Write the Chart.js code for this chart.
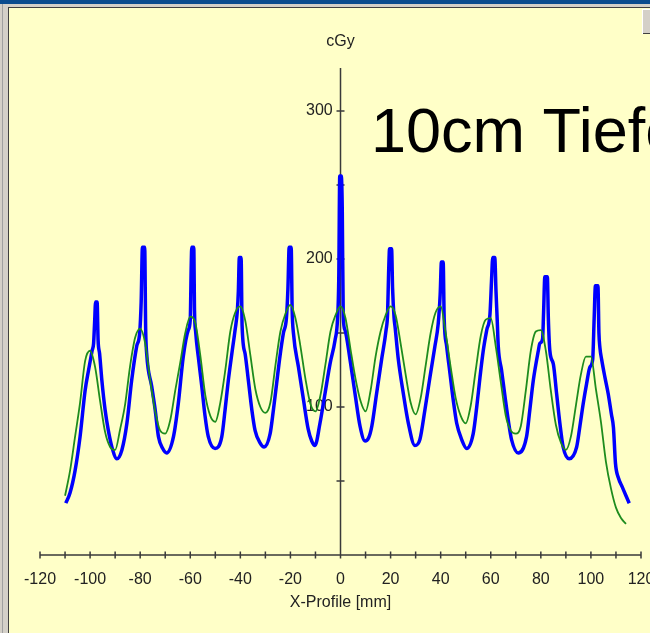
<!DOCTYPE html>
<html>
<head>
<meta charset="utf-8">
<script src="https://cdn.jsdelivr.net/npm/chart.js@4.4.1/dist/chart.umd.min.js"></script>
<style>
  html, body { margin: 0; padding: 0; }
  body { width: 650px; height: 633px; overflow: hidden; background: #d4d0c8; position: relative; }
  #titlebar { position: absolute; left: 0; top: 0; width: 650px; height: 4px; background: #0a4c8e; }
  #edge { position: absolute; left: 2px; top: 4px; width: 1px; height: 629px; background: #a0a0a0; }
  #panel { position: absolute; left: 8px; top: 7px; width: 642px; height: 626px;
           border-left: 1px solid #404040; border-top: 1px solid #404040;
           background: #ffffc8; overflow: hidden; }
  #panel canvas { position: absolute; left: 0; top: 0; }
  #btn { position: absolute; left: 642px; top: 9px; width: 8px; height: 24px; background: #d4d0c8;
         border-top: 1px solid #fff; border-left: 1px solid #fff; box-shadow: inset -1px -1px 0 #404040; }
</style>
</head>
<body>
<div id="titlebar"></div>
<div id="edge"></div>
<div id="panel"><canvas id="profile" width="664" height="625"></canvas></div>
<div id="btn"></div>
<script>
// green curve, 2 mm steps
const greenX = [-110, -108, -106, -104, -102, -100, -98, -96, -94, -92, -90, -88, -86, -84, -82, -80,
  -78, -76, -74, -72, -70, -68, -66, -64, -62, -60, -58, -56, -54, -52, -50, -48, -46, -44, -42, -40,
  -38, -36, -34, -32, -30, -28, -26, -24, -22, -20, -18, -16, -14, -12, -10, -8, -6, -4, -2, 0,
  2, 4, 6, 8, 10, 12, 14, 16, 18, 20, 22, 24, 26, 28, 30, 32, 34, 36, 38, 40,
  42, 44, 46, 48, 50, 52, 54, 56, 58, 60, 62, 64, 66, 68, 70, 72, 74, 76, 78, 80,
  82, 84, 86, 88, 90, 92, 94, 96, 98, 100, 102, 104, 106, 108, 110, 112, 114];
const greenY = [40, 57, 80, 103, 131, 138, 127, 104, 83, 73, 71, 85, 102, 128, 147, 153,
  143, 118, 97, 84, 82, 91, 111, 130, 150, 161, 157, 135, 108, 94, 90, 103, 125, 151, 164, 168,
  158, 135, 112, 100, 96, 103, 128, 151, 163, 169, 160, 141, 119, 102, 97, 108, 129, 151, 162, 168,
  160, 139, 119, 104, 97, 111, 134, 151, 162, 168, 162, 143, 122, 103, 95, 106, 128, 150, 164, 168,
  150, 127, 106, 94, 89, 101, 125, 148, 159, 160, 141, 117, 94, 84, 82, 87, 111, 138, 151, 152,
  138, 111, 88, 76, 71, 80, 101, 122, 134, 134, 112, 90, 63, 45, 32, 25, 21];

// blue curve, denser around the spikes
const blueX = [-109.7, -108, -106, -104, -102, -100.6, -99.2, -98.6, -98.2, -97.8, -97.2, -96.8, -96.2, -95.3, -94, -92.7, -91.3, -89.3,
  -87.3, -85.3, -83.4, -81.4, -80.2, -79.6, -79.1, -78.2, -77.8, -77.4, -75.4, -74, -72.7, -71, -69.4,
  -66.7, -64.8, -62.8, -60.8, -60, -59.6, -59.4, -58.6, -58.3, -57.8, -56.8, -55.4, -54.1, -52.8, -50.1,
  -47.4, -46.1, -44.8, -43.4, -42.1, -41.2, -40.8, -40.4, -39.7, -39.3, -38.1, -36.8, -35.4, -34.1, -32.2, -30.5,
  -28.1, -26.8, -25.5, -24.2, -22.8, -21.6, -21, -20.5, -19.7, -19.3, -18.8, -16.8, -14.8, -12.9, -11.5, -10.2,
  -8.2, -6.2, -4.2, -2.2, -1.2, -0.7, -0.3, 0.3, 0.7, 1.1, 1.8, 3.8, 5.8, 7.8, 9.8,
  11.2, 12.5, 14.4, 16.4, 18.2, 18.8, 19.2, 19.6, 20.4, 20.8, 21.4, 21.8, 23.1, 25.1, 27.1, 29.7,
  31.7, 33.7, 35.7, 37.7, 39, 39.8, 40.3, 41, 41.4, 42.4, 43.7, 45, 46.4, 48.4, 50.4,
  53, 54.4, 55.7, 57, 58.4, 59.7, 60.3, 60.8, 61.6, 62.1, 62.6, 63, 64.3, 65.7, 67, 68.3, 71,
  74.3, 75.6, 77, 79, 79.6, 80.7, 81.1, 81.6, 82.6, 83, 83.6, 85, 86.3, 87.6, 88.9, 91.3,
  94.3, 95.6, 96.9, 98.3, 99.6, 100.7, 101.3, 101.8, 102.8, 103.2, 103.6, 104.3, 105.6, 106.9, 108.2, 109, 109.8, 111, 112.5, 114, 115.3];
const blueY = [35, 42, 57, 80, 111, 125, 138, 143, 157, 171, 171, 145, 136, 118, 98, 84, 73, 65,
  71, 89, 118, 141, 150, 171, 208, 208, 152, 136, 114, 98, 80, 72, 69,
  80, 102, 134, 152, 159, 197, 208, 208, 165, 150, 134, 114, 94, 80, 72,
  80, 98, 118, 136, 152, 165, 178, 201, 201, 155, 136, 118, 98, 84, 76, 73,
  82, 98, 116, 134, 150, 160, 180, 208, 208, 165, 150, 127, 105, 85, 77, 74,
  89, 109, 129, 145, 159, 186, 256, 256, 234, 161, 152, 132, 109, 87, 77,
  79, 87, 109, 132, 152, 163, 190, 207, 207, 180, 160, 154, 132, 109, 89, 74,
  78, 98, 120, 141, 156, 176, 198, 198, 160, 141, 123, 105, 89, 78, 72,
  82, 100, 120, 138, 152, 163, 185, 201, 201, 178, 158, 141, 125, 107, 91, 78, 69,
  80, 98, 118, 138, 143, 146, 164, 188, 188, 160, 138, 129, 109, 89, 73, 65,
  73, 87, 102, 116, 127, 132, 160, 182, 182, 150, 140, 132, 120, 109, 95, 86, 62, 52, 46, 40, 35];

// small cross marks on both axes
const xMarks = [-120, -110, -100, -90, -80, -70, -60, -50, -40, -30, -20, -10, 0,
  10, 20, 30, 40, 50, 60, 70, 80, 90, 100, 110, 120];
const yMarks = [50, 100, 150, 200, 250, 300];
const yAxisTop = 329;

const labelFont = { family: '"Liberation Sans", Arial, sans-serif', size: 16, weight: 'normal' };
const textColor = '#222';

const crossAxes = {
  id: 'crossAxes',
  beforeDatasetsDraw(chart) {
    const { ctx, scales: { x, y } } = chart;
    const x0 = x.getPixelForValue(0);
    const y0 = y.getPixelForValue(0);
    ctx.save();
    ctx.strokeStyle = '#3a3a3a';
    ctx.lineWidth = 1.5;
    ctx.beginPath();
    ctx.moveTo(x.getPixelForValue(xMarks[0]), y0);
    ctx.lineTo(x.getPixelForValue(xMarks[xMarks.length - 1]), y0);
    ctx.moveTo(x0, y0);
    ctx.lineTo(x0, y.getPixelForValue(yAxisTop));
    xMarks.forEach(v => {
      const px = x.getPixelForValue(v);
      ctx.moveTo(px, y0 - 3.5);
      ctx.lineTo(px, y0 + 3.5);
    });
    yMarks.forEach(v => {
      const py = y.getPixelForValue(v);
      ctx.moveTo(x0 - 4, py);
      ctx.lineTo(x0 + 4, py);
    });
    ctx.stroke();
    ctx.restore();
  },
  afterDraw(chart) {
    const ctx = chart.ctx;
    ctx.save();
    ctx.fillStyle = '#000';
    ctx.font = '63px "Liberation Sans", Arial, sans-serif';
    ctx.textBaseline = 'alphabetic';
    ctx.fillText('10cm Tiefe', 362, 144);
    ctx.restore();
  }
};

const ctx = document.getElementById('profile').getContext('2d');
new Chart(ctx, {
  type: 'line',
  data: {
    datasets: [
      {
        label: 'green',
        data: greenX.map((x, i) => ({ x: x, y: greenY[i] })),
        borderColor: '#1e8c1e',
        borderWidth: 1.8,
        pointRadius: 0,
        cubicInterpolationMode: 'monotone'
      },
      {
        label: 'blue',
        data: blueX.map((x, i) => ({ x: x, y: blueY[i] })),
        borderColor: '#0000ff',
        borderWidth: 3.5,
        borderJoinStyle: 'round',
        pointRadius: 0,
        cubicInterpolationMode: 'monotone'
      }
    ]
  },
  options: {
    responsive: false,
    animation: false,
    events: [],
    layout: { padding: { left: 31, right: 32, top: 0, bottom: 0 } },
    plugins: {
      legend: { display: false },
      tooltip: { enabled: false },
      title: {
        display: true,
        text: 'cGy',
        color: textColor,
        font: labelFont,
        padding: { top: 24.4, bottom: 15 }
      }
    },
    scales: {
      x: {
        type: 'linear',
        min: -120,
        max: 120,
        grid: { display: false, drawTicks: false },
        border: { display: false },
        ticks: { stepSize: 20, padding: 15, color: textColor, font: labelFont, maxRotation: 0, autoSkip: false },
        title: { display: true, text: 'X-Profile [mm]', color: textColor, font: labelFont, padding: { top: 0, bottom: 21 } },
        afterFit(scale) { scale.height = 78; }
      },
      y: {
        min: 0,
        max: 330,
        // labels get right-aligned on this x value, so park it a little left of 0
        position: { x: -3.1 },
        grid: { display: false, drawTicks: false },
        border: { display: false },
        ticks: {
          stepSize: 50,
          includeBounds: false,
          color: textColor,
          font: labelFont,
          callback: v => (v > 0 && v % 100 === 0) ? v : ''
        }
      }
    }
  },
  plugins: [crossAxes]
});
</script>
</body>
</html>
